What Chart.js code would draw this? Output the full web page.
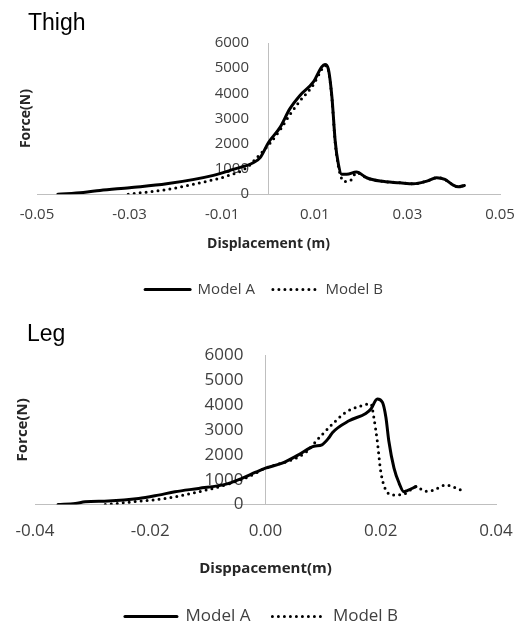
<!DOCTYPE html>
<html>
<head>
<meta charset="utf-8">
<script src="https://cdn.jsdelivr.net/npm/chart.js@4/dist/chart.umd.min.js"></script>
<style>
	body { margin: 0; background: #fff; }
	.chart-box { position: relative; width: 520px; overflow: hidden; }
</style>
</head>
<body>
<div class="chart-box" style="height:300px"><canvas id="thighChart"></canvas></div>
<div class="chart-box" style="height:324px"><canvas id="legChart"></canvas></div>
<script>
// Thigh: displacement (m) / force (N)
const thighDispA = [-0.0455, -0.04, -0.0364, -0.03, -0.022, -0.0119, -0.0076, -0.0033, -0.0018, 0, 0.0025, 0.0046, 0.0068, 0.0097, 0.0115, 0.0122, 0.0129, 0.0137, 0.0144, 0.0151, 0.0158, 0.0169, 0.019, 0.0212, 0.0241, 0.0284, 0.0313, 0.0342, 0.0363, 0.0381, 0.0399, 0.041, 0.0423];
const thighForceA = [0, 70, 148, 260, 412, 747, 987, 1250, 1453, 2053, 2653, 3387, 3920, 4453, 5053, 5147, 4987, 3853, 2120, 1187, 787, 787, 880, 653, 520, 453, 413, 520, 653, 587, 360, 293, 347];
const thighDispB = [-0.0303, -0.022, -0.0148, -0.009, -0.0047, -0.0025, 0, 0.0025, 0.0046, 0.0068, 0.0097, 0.0115, 0.0122, 0.0129, 0.0137, 0.0144, 0.0151, 0.0158, 0.0165, 0.0178, 0.019, 0.0212, 0.0241, 0.0284, 0.0313, 0.0342, 0.0363, 0.0381, 0.0399, 0.041, 0.0423];
const thighForceB = [0, 187, 453, 720, 1053, 1453, 1950, 2550, 3150, 3700, 4350, 4950, 5100, 4950, 3800, 2050, 1100, 620, 500, 560, 850, 650, 520, 453, 413, 520, 653, 587, 360, 293, 347];
const thighXTicks = [-0.05, -0.03, -0.01, 0.01, 0.03, 0.05];

// Leg
const legDispA = [-0.036, -0.033, -0.0313, -0.0273, -0.022, -0.0186, -0.0157, -0.0116, -0.007, -0.0041, -0.0017, 0, 0.0029, 0.0058, 0.0084, 0.0098, 0.011, 0.0116, 0.0145, 0.0174, 0.0183, 0.0194, 0.0203, 0.0209, 0.0214, 0.0223, 0.0232, 0.024, 0.0246, 0.0261];
const legForceA = [0, 40, 110, 140, 244, 380, 515, 650, 812, 1056, 1300, 1462, 1665, 2006, 2343, 2400, 2680, 2884, 3360, 3656, 3834, 4240, 4100, 3493, 2547, 1462, 853, 515, 560, 720];
const legDispB = [-0.0278, -0.022, -0.0174, -0.0116, -0.007, -0.0029, 0, 0.0046, 0.007, 0.0093, 0.0116, 0.0139, 0.0162, 0.0183, 0.0188, 0.0194, 0.02, 0.0209, 0.0223, 0.0243, 0.0261, 0.0278, 0.029, 0.0313, 0.0327, 0.0339];
const legForceB = [0, 135, 244, 515, 786, 1125, 1462, 1800, 2100, 2680, 3225, 3700, 3930, 4040, 3493, 2547, 1330, 583, 380, 450, 720, 540, 570, 786, 700, 583];
const legXTicks = [-0.04, -0.02, 0, 0.02, 0.04];

const seriesLabels = ['Model A', 'Model B'];
const yTicks = [0, 1000, 2000, 3000, 4000, 5000, 6000];

const FONT = '"Open Sans", sans-serif';
const TITLE_FONT = '"Liberation Sans", Arial, sans-serif';
const TEXT = '#404040';
const AXIS = '#bfbfbf';

function toPoints(xs, ys) {
	return xs.map((x, i) => ({ x: x, y: ys[i] }));
}

function makeDatasets(dispA, forceA, dispB, forceB) {
	return [
		{
			label: seriesLabels[0],
			data: toPoints(dispA, forceA),
			borderColor: '#000',
			backgroundColor: '#000',
			borderWidth: 3,
			borderCapStyle: 'round',
			pointRadius: 0,
			cubicInterpolationMode: 'monotone',
		},
		{
			label: seriesLabels[1],
			data: toPoints(dispB, forceB),
			borderColor: '#000',
			backgroundColor: '#000',
			borderWidth: 3,
			borderDash: [0, 6],
			borderCapStyle: 'round',
			pointRadius: 0,
			cubicInterpolationMode: 'monotone',
		},
	];
}

// legend keeps the dataset's dash (point style would drop it)
function legendLabels(chart) {
	const items = Chart.defaults.plugins.legend.labels.generateLabels(chart);
	items.forEach((item, i) => {
		const ds = chart.data.datasets[i];
		item.lineDash = ds.borderDash || [];
		item.lineWidth = ds.borderWidth;
		item.lineCap = ds.borderCapStyle;
		item.strokeStyle = ds.borderColor;
	});
	return items;
}

function buildOptions(o) {
	return {
		responsive: true,
		maintainAspectRatio: false,
		animation: false,
		layout: { padding: { left: o.padLeft, right: o.padRight, top: 0, bottom: o.padBottom } },
		plugins: {
			title: {
				display: true,
				text: o.title,
				align: 'start',
				color: '#000',
				font: { size: 23, family: TITLE_FONT, weight: 'normal' },
				padding: { top: o.titleTop, bottom: o.titleBottom },
			},
			legend: {
				position: 'bottom',
				labels: {
					usePointStyle: true,
					pointStyle: 'line',
					pointStyleWidth: o.legendLine,
					color: TEXT,
					font: { size: o.legendSize, family: FONT },
					padding: o.legendPad,
					generateLabels: legendLabels,
				},
			},
			tooltip: { enabled: false },
		},
		scales: {
			x: {
				type: 'linear',
				min: o.xTicks[0],
				max: o.xTicks[o.xTicks.length - 1],
				afterBuildTicks: s => { s.ticks = o.xTicks.map(v => ({ value: v })); },
				afterFit: s => { s.paddingLeft = 0; s.paddingRight = 0; },
				grid: { display: false, drawTicks: false },
				border: { display: true, color: AXIS, width: 1 },
				ticks: {
					padding: o.xTickPad,
					color: TEXT,
					maxRotation: 0,
					autoSkip: false,
					font: { size: o.tickSize, family: FONT },
					callback: v => Number(v).toFixed(2),
				},
				title: {
					display: true,
					text: o.xTitle,
					color: '#262626',
					font: { size: o.axisTitleSize, family: FONT, weight: 'bold' },
					padding: { top: o.xTitleTop, bottom: o.xTitleBottom },
				},
			},
			y: {
				type: 'linear',
				position: { x: 0 },
				min: yTicks[0],
				max: yTicks[yTicks.length - 1],
				afterBuildTicks: s => { s.ticks = yTicks.map(v => ({ value: v })); },
				grid: { display: false, drawTicks: false },
				border: { display: true, color: AXIS, width: 1 },
				ticks: {
					color: TEXT,
					autoSkip: false,
					font: { size: o.tickSize, family: FONT },
					// labels of an axis placed at x = 0 ignore ticks.padding, so pad with spaces
					callback: v => String(v) + '     ',
				},
			},
			yTitle: {
				type: 'linear',
				position: 'left',
				grid: { display: false, drawTicks: false },
				border: { display: false },
				ticks: { display: false },
				title: {
					display: true,
					text: 'Force(N)',
					color: '#262626',
					font: { size: o.axisTitleSize, family: FONT, weight: 'bold' },
					padding: { top: o.yTitleTop, bottom: o.yTitleBottom },
				},
			},
		},
	};
}

new Chart(document.getElementById('thighChart'), {
	type: 'line',
	data: { datasets: makeDatasets(thighDispA, thighForceA, thighDispB, thighForceB) },
	options: buildOptions({
		title: 'Thigh', titleTop: 10, titleBottom: 5.4,
		padLeft: 28, padRight: 20, padBottom: -7,
		xTicks: thighXTicks, xTickPad: 12, tickSize: 15,
		xTitle: 'Displacement (m)', axisTitleSize: 14, xTitleTop: -1, xTitleBottom: 12,
		yTitleTop: -10.4, yTitleBottom: 2.6,
		legendLine: 45, legendSize: 15, legendPad: 18,
	}),
});

new Chart(document.getElementById('legChart'), {
	type: 'line',
	data: { datasets: makeDatasets(legDispA, legForceA, legDispB, legForceB) },
	options: buildOptions({
		title: 'Leg', titleTop: 20.6, titleBottom: 6.8,
		padLeft: 27, padRight: 24, padBottom: -11,
		xTicks: legXTicks, xTickPad: 16, tickSize: 17,
		xTitle: 'Disppacement(m)', axisTitleSize: 15, xTitleTop: 3, xTitleBottom: 8,
		yTitleTop: -13, yTitleBottom: 3,
		legendLine: 52, legendSize: 17, legendPad: 22,
	}),
});
</script>
</body>
</html>
